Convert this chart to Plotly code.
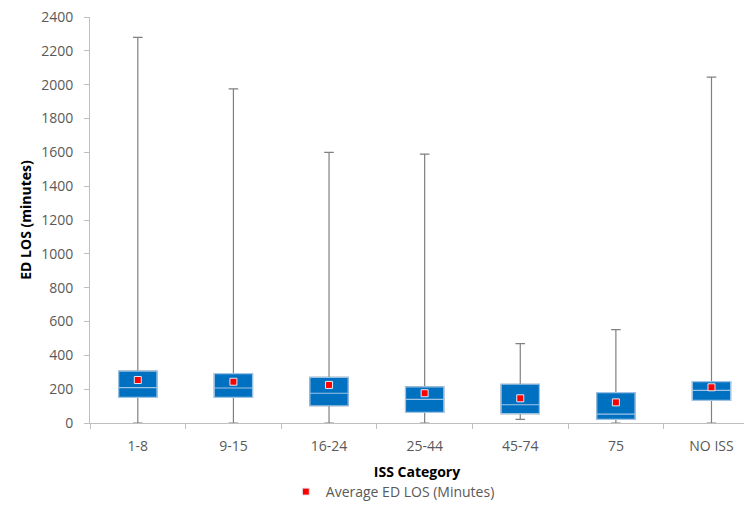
import plotly.graph_objects as go

categories = ["1-8", "9-15", "16-24", "25-44", "45-74", "75", "NO ISS"]
q1 = [152, 152, 102, 63, 55, 22, 134]
median = [209, 207, 176, 140, 108, 53, 193]
q3 = [307, 292, 270, 213, 229, 179, 244]
minimum = [0, 0, 0, 0, 22, 0, 0]
maximum = [2280, 1975, 1600, 1590, 469, 552, 2045]
mean = [254, 244, 225, 176, 146, 122, 211]
y_ticks = list(range(0, 2401, 200))

FONT = "Open Sans"
BLUE = "#0070C0"
LIGHT = "#9DC3E6"
GRAY = "#808080"

fig = go.Figure()

# whiskers (gray)
fig.add_trace(go.Box(
    x=categories, q1=q1, median=median, q3=q3,
    lowerfence=minimum, upperfence=maximum,
    fillcolor=BLUE, line=dict(color=GRAY, width=1.2),
    whiskerwidth=0.25, width=0.4, showlegend=False, hoverinfo="skip",
    boxpoints=False,
))
# boxes with light median line
fig.add_trace(go.Box(
    x=categories, q1=q1, median=median, q3=q3,
    lowerfence=q1, upperfence=q3,
    fillcolor=BLUE, line=dict(color=LIGHT, width=1.2),
    whiskerwidth=0, width=0.4, showlegend=False, hoverinfo="skip",
    boxpoints=False,
))
# means
fig.add_trace(go.Scatter(
    x=categories, y=mean, mode="markers", name="Average ED LOS (Minutes)",
    marker=dict(symbol="square", size=7, color="#FF0000",
                line=dict(color="#DDEBF7", width=1)),
))

fig.update_layout(
    width=744, height=512,
    margin=dict(l=90, r=0, t=17, b=89),
    paper_bgcolor="white", plot_bgcolor="white",
    boxmode="overlay",
    font=dict(family=FONT, size=14, color="#595959"),
    showlegend=True,
    legend=dict(orientation="h", x=0.463, xanchor="center", y=-0.17, yanchor="middle",
                itemwidth=30, font=dict(size=14, color="#595959")),
)
fig.update_xaxes(
    type="category", range=[-0.5, 6.34],
    showline=True, linecolor="#BFBFBF", linewidth=1,
    ticks="outside", tickson="boundaries", ticklen=5, tickcolor="#BFBFBF",
    ticklabelstandoff=10,
    showgrid=False,
    title=dict(text="<b>ISS Category</b>", font=dict(size=14, color="#000000"), standoff=13),
    tickfont=dict(size=14, color="#595959"),
)
fig.update_yaxes(
    range=[0, 2400], tickvals=y_ticks,
    showline=True, linecolor="#BFBFBF", linewidth=1,
    ticks="outside", ticklen=5, tickcolor="#BFBFBF",
    ticklabelstandoff=8,
    showgrid=False, zeroline=False,
    title=dict(text="<b>ED LOS (minutes)</b>", font=dict(size=14, color="#000000"), standoff=6),
    tickfont=dict(size=14, color="#595959"),
)

fig.write_html("out.html",
               config={"displayModeBar": False},
               post_script="document.body.style.margin='0';document.body.style.overflow='hidden';")
